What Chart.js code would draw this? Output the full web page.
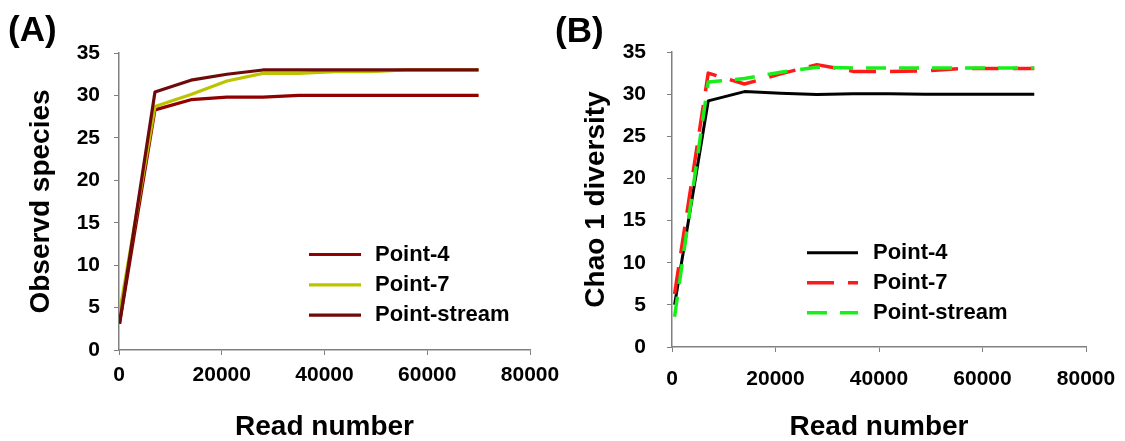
<!DOCTYPE html>
<html>
<head>
<meta charset="utf-8">
<script src="https://cdn.jsdelivr.net/npm/chart.js@4/dist/chart.umd.min.js"></script>
<style>
  html, body { margin: 0; padding: 0; background: #fff; }
  body { width: 1125px; height: 441px; position: relative; overflow: hidden; font-family: 'Liberation Sans', Arial, sans-serif; }
  .panel { position: absolute; top: 0; height: 441px; }
  #boxA { left: 0; width: 600px; }
  #boxB { left: 560px; width: 600px; }
  .tag { position: absolute; font-weight: bold; font-size: 35px; line-height: 1; }
</style>
</head>
<body>
<div class="panel" id="boxA"><canvas id="chartA"></canvas></div>
<div class="panel" id="boxB"><canvas id="chartB"></canvas></div>
<div class="tag" style="left:8px; top:11px;">(A)</div>
<div class="tag" style="left:555px; top:12px;">(B)</div>
<script>
// Rarefaction curves - (A) observed species, (B) Chao 1

const seriesNames = ['Point-4', 'Point-7', 'Point-stream'];

const readsA = [100, 7000, 14000, 21000, 28000, 35000, 42000, 49000, 56000, 63000, 70000];
const obsPoint4 = [3.1, 28.3, 29.5, 29.8, 29.8, 30, 30, 30, 30, 30, 30];
const obsPoint7 = [4.4, 28.7, 30.1, 31.7, 32.6, 32.6, 32.8, 32.8, 33, 33, 33];
const obsStream = [3.1, 30.4, 31.8, 32.5, 33, 33, 33, 33, 33, 33, 33];

const readsB = [500, 7000, 14000, 21000, 28000, 35000, 42000, 49000, 56000, 63000, 70000];
const chaoPoint4 = [5, 29.2, 30.3, 30.1, 29.95, 30.05, 30.05, 30, 30, 30, 30];
const chaoPoint7 = [6.3, 32.5, 31.2, 32.4, 33.5, 32.7, 32.7, 32.75, 33.05, 33.05, 33.05];
const chaoStream = [3.6, 31.45, 31.85, 32.6, 33.2, 33.1, 33.1, 33.1, 33.1, 33.1, 33.1];

const xTicks = [0, 20000, 40000, 60000, 80000];
const yTicks = [0, 5, 10, 15, 20, 25, 30, 35];

const FONT = "'Liberation Sans', Arial, sans-serif";
const AXIS_GREY = '#808080';

function pts(xs, ys) {
    return xs.map((x, i) => ({ x: x, y: ys[i] }));
}

// draws the legend lines + labels inside the plot, straight from the datasets
const lineLegend = {
    id: 'lineLegend',
    afterDraw(chart, args, opts) {
        const ctx = chart.ctx;
        ctx.save();
        chart.data.datasets.forEach((ds, i) => {
            const y = opts.y + i * opts.gap;
            ctx.strokeStyle = ds.borderColor;
            ctx.lineWidth = ds.borderWidth;
            ctx.setLineDash(ds.borderDash || []);
            ctx.beginPath();
            ctx.moveTo(opts.x, y);
            ctx.lineTo(opts.x + opts.len, y);
            ctx.stroke();
            ctx.setLineDash([]);
            ctx.fillStyle = '#000';
            ctx.font = 'bold 22px ' + FONT;
            ctx.textBaseline = 'middle';
            ctx.fillText(ds.label, opts.textX, y);
        });
        ctx.restore();
    }
};

function makeChart(id, cfg) {
    const ctx = document.getElementById(id).getContext('2d');
    return new Chart(ctx, {
        type: 'line',
        data: { datasets: cfg.datasets },
        plugins: [lineLegend],
        options: {
            responsive: true, maintainAspectRatio: false,
            animation: false,
            layout: { padding: { left: 0, top: cfg.top, right: cfg.right, bottom: 0 } },
            elements: { point: { radius: 0 }, line: { tension: 0, borderJoinStyle: 'round' } },
            scales: {
                x: {
                    type: 'linear', min: 0, max: 80000,
                    afterBuildTicks: s => { s.ticks = xTicks.map(v => ({ value: v })); },
                    afterFit: s => { s.height = cfg.xHeight; },
                    grid: { drawOnChartArea: false, drawTicks: true, tickLength: 5, color: AXIS_GREY },
                    border: { color: AXIS_GREY, width: 1.5 },
                    ticks: {
                        color: '#000', padding: cfg.xPad, maxRotation: 0, autoSkip: false,
                        font: { family: FONT, size: 21, weight: 'bold', lineHeight: 1 },
                        callback: v => String(v)
                    },
                    title: {
                        display: true, text: 'Read number', color: '#000',
                        font: { family: FONT, size: 28, weight: 'bold', lineHeight: 1 },
                        padding: { top: 0, bottom: 0 }
                    }
                },
                y: {
                    min: 0, max: 35,
                    afterBuildTicks: s => { s.ticks = yTicks.map(v => ({ value: v })); },
                    afterFit: s => { s.width = cfg.yWidth; },
                    grid: { drawOnChartArea: false, drawTicks: true, tickLength: 5, color: AXIS_GREY },
                    border: { color: AXIS_GREY, width: 1.5 },
                    ticks: {
                        color: '#000', padding: cfg.yPad,
                        font: { family: FONT, size: 21, weight: 'bold', lineHeight: 1 }
                    },
                    title: {
                        display: true, text: cfg.yTitle, color: '#000',
                        font: { family: FONT, size: 28, weight: 'bold', lineHeight: 1 },
                        padding: { top: cfg.yTitlePad, bottom: 0 }
                    }
                }
            },
            plugins: {
                legend: { display: false },
                tooltip: { enabled: false },
                lineLegend: cfg.legend
            }
        }
    });
}

makeChart('chartA', {
    top: 53, right: 70, xHeight: 91, yWidth: 119, xPad: 10, yPad: 14, yTitlePad: 27,
    yTitle: 'Observd species',
    legend: { x: 309, y: 254.5, gap: 30.3, len: 52, textX: 375 },
    datasets: [
        { label: seriesNames[0], data: pts(readsA, obsPoint4), borderColor: '#900000', borderWidth: 3.2, order: 2 },
        { label: seriesNames[1], data: pts(readsA, obsPoint7), borderColor: '#bcc400', borderWidth: 3.2, order: 1 },
        { label: seriesNames[2], data: pts(readsA, obsStream), borderColor: '#6e0a0a', borderWidth: 3.2, order: 0 }
    ]
});

makeChart('chartB', {
    top: 52, right: 74, xHeight: 94, yWidth: 112, xPad: 17, yPad: 21, yTitlePad: 22,
    yTitle: 'Chao 1 diversity',
    legend: { x: 247, y: 252.7, gap: 30, len: 51, textX: 313 },
    datasets: [
        { label: seriesNames[0], data: pts(readsB, chaoPoint4), borderColor: '#000000', borderWidth: 3, order: 2 },
        { label: seriesNames[1], data: pts(readsB, chaoPoint7), borderColor: '#ff1a1a', borderWidth: 3.5, borderDash: [27, 14], order: 1 },
        { label: seriesNames[2], data: pts(readsB, chaoStream), borderColor: '#1aee1a', borderWidth: 3.5, borderDash: [20, 13], order: 0 }
    ]
});
</script>
</body>
</html>
